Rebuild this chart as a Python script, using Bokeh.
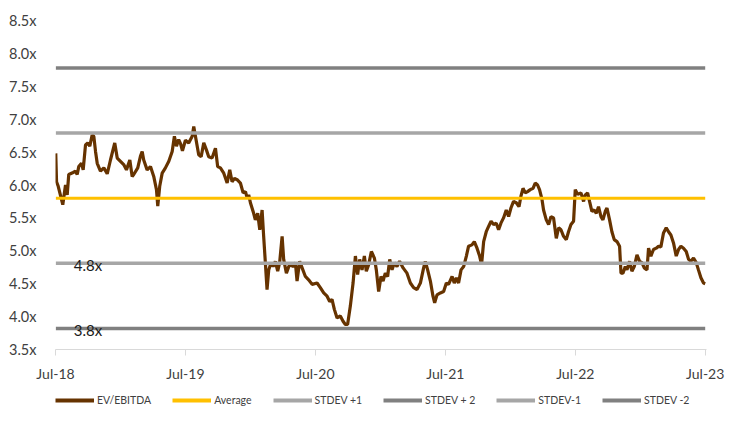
from bokeh.plotting import figure
from bokeh.layouts import column
from bokeh.models import Range1d, FixedTicker, PrintfTickFormatter, Legend, LegendItem, ColumnDataSource
from bokeh.embed import file_html
from bokeh.resources import INLINE
from bokeh.core.properties import value

# ---- data ----
start_year = 2018.5  # Jul-18
years_since_jul18 = [
    0.002, 0.008, 0.021, 0.056, 0.077, 0.090, 0.102, 0.136, 0.154, 0.167, 0.179, 0.200, 0.213, 0.231,
    0.248, 0.264, 0.282, 0.295, 0.308, 0.321, 0.346, 0.372, 0.398, 0.423, 0.456, 0.475, 0.500, 0.525,
    0.546, 0.572, 0.590, 0.602, 0.633, 0.654, 0.667, 0.679, 0.705, 0.731, 0.756, 0.777, 0.787, 0.802,
    0.821, 0.846, 0.872, 0.898, 0.915, 0.931, 0.948, 0.962, 0.977, 1.000, 1.025, 1.052, 1.064, 1.077,
    1.102, 1.121, 1.141, 1.162, 1.179, 1.205, 1.231, 1.248, 1.269, 1.295, 1.321, 1.341, 1.359, 1.377,
    1.398, 1.423, 1.444, 1.462, 1.475, 1.487, 1.500, 1.525, 1.538, 1.556, 1.572, 1.590, 1.602, 1.615,
    1.628, 1.641, 1.659, 1.675, 1.692, 1.710, 1.725, 1.744, 1.756, 1.777, 1.795, 1.808, 1.828, 1.846,
    1.859, 1.879, 1.898, 1.923, 1.948, 1.975, 2.013, 2.038, 2.064, 2.090, 2.110, 2.128, 2.146, 2.167,
    2.192, 2.213, 2.231, 2.248, 2.269, 2.290, 2.308, 2.325, 2.341, 2.359, 2.377, 2.392, 2.410, 2.431,
    2.454, 2.469, 2.487, 2.505, 2.521, 2.538, 2.556, 2.572, 2.590, 2.608, 2.628, 2.648, 2.675, 2.705,
    2.731, 2.756, 2.782, 2.808, 2.833, 2.846, 2.864, 2.885, 2.905, 2.918, 2.936, 2.962, 2.987, 3.008,
    3.025, 3.052, 3.069, 3.085, 3.102, 3.121, 3.141, 3.162, 3.179, 3.205, 3.223, 3.244, 3.264, 3.279,
    3.295, 3.315, 3.333, 3.352, 3.372, 3.392, 3.410, 3.428, 3.448, 3.469, 3.487, 3.505, 3.525, 3.546,
    3.567, 3.582, 3.598, 3.615, 3.633, 3.654, 3.675, 3.692, 3.710, 3.725, 3.744, 3.756, 3.777, 3.795,
    3.813, 3.833, 3.854, 3.872, 3.890, 3.910, 3.931, 3.948, 3.967, 3.987, 4.000, 4.018, 4.044, 4.064,
    4.077, 4.095, 4.110, 4.128, 4.146, 4.162, 4.179, 4.198, 4.213, 4.231, 4.244, 4.264, 4.282, 4.300,
    4.321, 4.341, 4.352, 4.367, 4.385, 4.398, 4.418, 4.436, 4.454, 4.475, 4.495, 4.513, 4.531, 4.552,
    4.564, 4.582, 4.602, 4.623, 4.641, 4.659, 4.679, 4.700, 4.718, 4.736, 4.756, 4.777, 4.795, 4.813,
    4.833, 4.854, 4.872, 4.890, 4.910, 4.931, 4.948, 4.967, 4.987, 5.000,
]
ev_ebitda = [
    6.48, 6.05, 5.98, 5.70, 6.00, 5.85, 6.16, 6.19, 6.21, 6.16, 6.28, 6.33, 6.23, 6.61,
    6.64, 6.59, 6.76, 6.74, 6.51, 6.33, 6.21, 6.26, 6.17, 6.38, 6.64, 6.41, 6.36, 6.31,
    6.23, 6.38, 6.13, 6.16, 6.26, 6.44, 6.51, 6.38, 6.23, 6.28, 6.13, 5.93, 5.68, 5.98,
    6.18, 6.26, 6.36, 6.51, 6.74, 6.59, 6.69, 6.63, 6.52, 6.68, 6.64, 6.74, 6.89, 6.74,
    6.46, 6.43, 6.64, 6.53, 6.43, 6.41, 6.56, 6.28, 6.26, 6.18, 6.03, 6.23, 6.05, 6.10,
    6.08, 6.03, 5.88, 5.90, 5.80, 5.85, 5.73, 5.57, 5.47, 5.57, 5.32, 5.62, 5.22, 4.82,
    4.41, 4.71, 4.82, 4.76, 4.84, 4.69, 4.82, 5.22, 4.87, 4.66, 4.76, 4.79, 4.76, 4.82,
    4.54, 4.84, 4.74, 4.61, 4.56, 4.49, 4.51, 4.44, 4.36, 4.31, 4.23, 4.26, 4.11, 3.98,
    4.01, 3.93, 3.88, 3.88, 4.16, 4.51, 4.92, 4.64, 4.87, 4.71, 4.92, 4.69, 4.79, 4.99,
    4.89, 4.71, 4.38, 4.61, 4.54, 4.66, 4.61, 4.87, 4.71, 4.82, 4.76, 4.84, 4.74, 4.66,
    4.51, 4.44, 4.41, 4.51, 4.74, 4.84, 4.71, 4.54, 4.31, 4.21, 4.33, 4.36, 4.38, 4.51,
    4.49, 4.61, 4.51, 4.59, 4.51, 4.71, 4.76, 4.92, 5.07, 5.09, 5.14, 5.04, 4.92, 4.79,
    5.14, 5.29, 5.37, 5.45, 5.40, 5.42, 5.32, 5.42, 5.50, 5.62, 5.52, 5.65, 5.75, 5.73,
    5.67, 5.83, 5.95, 5.88, 5.90, 5.93, 5.95, 6.03, 6.00, 5.93, 5.78, 5.62, 5.47, 5.40,
    5.52, 5.50, 5.19, 5.35, 5.32, 5.22, 5.17, 5.29, 5.40, 5.45, 5.93, 5.86, 5.88, 5.75,
    5.85, 5.88, 5.75, 5.60, 5.62, 5.57, 5.67, 5.52, 5.47, 5.60, 5.65, 5.47, 5.29, 5.17,
    5.14, 5.07, 4.66, 4.66, 4.76, 4.71, 4.84, 4.69, 4.76, 4.94, 4.84, 4.82, 4.74, 4.71,
    5.04, 4.92, 5.02, 5.04, 5.07, 5.06, 5.27, 5.35, 5.29, 5.24, 5.12, 4.92, 5.02, 5.07,
    5.04, 4.99, 4.87, 4.84, 4.89, 4.82, 4.71, 4.59, 4.51, 4.50,
]
average = 5.80
stdev_plus1 = 6.79
stdev_plus2 = 7.78
stdev_minus1 = 4.81
stdev_minus2 = 3.82
x_tick_years = [2018.5, 2019.5, 2020.5, 2021.5, 2022.5, 2023.5]
x_tick_labels = ["Jul-18", "Jul-19", "Jul-20", "Jul-21", "Jul-22", "Jul-23"]
y_ticks = [3.5, 4.0, 4.5, 5.0, 5.5, 6.0, 6.5, 7.0, 7.5, 8.0, 8.5]
series_names = ["EV/EBITDA", "Average", "STDEV +1", "STDEV + 2", "STDEV-1", "STDEV -2"]
series_colors = ["#663300", "#FFC000", "#A6A6A6", "#808080", "#A6A6A6", "#808080"]
series_widths = [3.2, 3, 3.5, 3.5, 3.5, 3.5]

# ---- build ----
x = [start_year + t for t in years_since_jul18]
x_span = [x[0], x[-1]]

FONT = "Lato"
TXT = "#404040"

p = figure(width=726, height=394, output_backend="svg", toolbar_location=None,
           x_range=Range1d(2018.5, 2023.51), y_range=Range1d(3.5, 8.5),
           min_border_left=55, min_border_right=20, min_border_top=20, min_border_bottom=45)
p.outline_line_color = None
p.xgrid.visible = False
p.ygrid.visible = False

levels = [None, average, stdev_plus1, stdev_plus2, stdev_minus1, stdev_minus2]
p.line(x, ev_ebitda, line_color=series_colors[0], line_width=series_widths[0])
for lv, c, w in zip(levels[1:], series_colors[1:], series_widths[1:]):
    p.line(x_span, [lv, lv], line_color=c, line_width=w)

lab_src = ColumnDataSource(dict(
    x=[x[0], x[0]], y=[stdev_minus1, stdev_minus2],
    t=[f"{stdev_minus1:.1f}x", f"{stdev_minus2:.1f}x"]))
p.text("x", "y", text="t", source=lab_src, x_offset=18, y_offset=2,
       text_font=value(FONT), text_font_size="15px", text_color="#1a1a1a",
       text_baseline="middle", text_align="left")

# axes
ya = p.yaxis[0]
ya.ticker = FixedTicker(ticks=y_ticks)
ya.formatter = PrintfTickFormatter(format="%.1fx")
ya.axis_line_color = None
ya.major_tick_line_color = None
ya.minor_tick_line_color = None
ya.major_label_standoff = 13
ya.major_label_text_font = FONT
ya.major_label_text_font_size = "14.5px"
ya.major_label_text_color = TXT

xa = p.xaxis[0]
xa.ticker = FixedTicker(ticks=x_tick_years)
xa.major_label_overrides = {t: l for t, l in zip(x_tick_years, x_tick_labels)}
xa.axis_line_color = "#D9D9D9"
xa.major_tick_line_color = "#D9D9D9"
xa.major_tick_in = 0
xa.major_tick_out = 6
xa.minor_tick_line_color = None
xa.major_label_standoff = 9
xa.major_label_text_font = FONT
xa.major_label_text_font_size = "14px"
xa.major_label_text_color = TXT

# legend strip below the chart
pl = figure(width=726, height=12, output_backend="svg", toolbar_location=None,
            x_range=Range1d(0, 1), y_range=Range1d(0, 1),
            min_border_left=0, min_border_right=0, min_border_top=0, min_border_bottom=0)
pl.outline_line_color = None
pl.axis.visible = False
pl.grid.visible = False
items = []
for n, c, w in zip(series_names, series_colors, series_widths):
    r = pl.line([-2, -1], [-2, -2], line_color=c, line_width=4)
    items.append(LegendItem(label=n, renderers=[r]))
legend = Legend(items=items, orientation="horizontal", location=(0, 0),
                glyph_width=39, glyph_height=8, label_standoff=3, spacing=21,
                padding=0, margin=0, border_line_color=None, background_fill_alpha=0,
                label_height=11, label_text_font=FONT, label_text_font_size="10.5px",
                label_text_color=TXT)
pl.add_layout(legend, "center")

layout = column(p, pl, spacing=0)
open("out.html", "w").write(file_html(layout, INLINE))
